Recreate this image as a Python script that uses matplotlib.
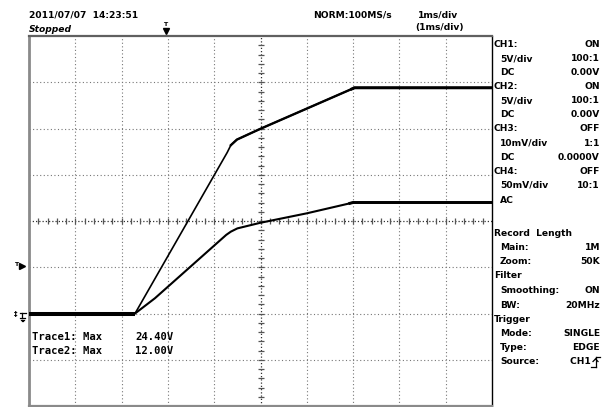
import matplotlib
matplotlib.use("Agg")
import matplotlib.pyplot as plt
import numpy as np

# ---- Acquisition data (time in ms from left edge, volts) ----
trace1_t = [0.0, 2.29, 4.28, 4.36, 4.49, 4.99, 6.97, 7.03, 10.0]
trace1_v = [0.0, 0.0, 17.4, 18.2, 18.8, 19.95, 24.27, 24.40, 24.40]

trace2_t = [0.0, 2.29, 2.72, 4.26, 4.36, 4.50, 4.99, 6.00, 6.93, 7.00, 10.0]
trace2_v = [0.0, 0.0, 1.65, 8.5, 8.85, 9.2, 9.8, 10.83, 11.91, 12.0, 12.0]

trace_max = ["24.40V", "12.00V"]

header_date = "2011/07/07  14:23:51"
header_state = "Stopped"
header_rate = "NORM:100MS/s"
header_tdiv = "1ms/div"
header_zdiv = "(1ms/div)"

panel_lines = [
    # (label, value, indented, y)
    ("CH1:", "ON", False, 44.5),
    ("5V/div", "100:1", True, 58.5),
    ("DC", "0.00V", True, 72.5),
    ("CH2:", "ON", False, 86.5),
    ("5V/div", "100:1", True, 100.5),
    ("DC", "0.00V", True, 114.5),
    ("CH3:", "OFF", False, 128.5),
    ("10mV/div", "1:1", True, 143),
    ("DC", "0.0000V", True, 157),
    ("CH4:", "OFF", False, 171),
    ("50mV/div", "10:1", True, 185),
    ("AC", "", True, 200),
    ("Record  Length", "", False, 233),
    ("Main:", "1M", True, 247.5),
    ("Zoom:", "50K", True, 262),
    ("Filter", "", False, 276),
    ("Smoothing:", "ON", True, 290.5),
    ("BW:", "20MHz", True, 305),
    ("Trigger", "", False, 319),
    ("Mode:", "SINGLE", True, 333.5),
    ("Type:", "EDGE", True, 348),
    ("Source:", "CH1   ", True, 362),
]

W, H = 610, 407
fig = plt.figure(figsize=(W / 100, H / 100), dpi=100)
fig.patch.set_facecolor("white")

def fx(x):
    return x / W

def fy(y):
    return 1 - y / H

x0, x1, y0, y1 = 29, 492, 36, 406
ax = fig.add_axes([fx(x0), fy(y1), (x1 - x0) / W, (y1 - y0) / H])
ax.set_xlim(0, 10)
ax.set_ylim(-10, 30)
ax.set_xticks([])
ax.set_yticks([])

for side in ["left", "bottom", "top"]:
    ax.spines[side].set_color("#8a8a8a")
ax.spines["left"].set_linewidth(2.0)
ax.spines["bottom"].set_linewidth(1.6)
ax.spines["top"].set_linewidth(1.6)
ax.spines["top"].set_color("#606060")
ax.spines["right"].set_color("black")
ax.spines["right"].set_linewidth(1.0)

# graticule
grid_kw = dict(color="#777777", lw=0.8, ls=(0, (1, 2.2)), zorder=1)
for gx in range(1, 10):
    if gx != 5:
        ax.axvline(gx, **grid_kw)
for gy in range(-5, 30, 5):
    if gy != 10:
        ax.axhline(gy, **grid_kw)
center_kw = dict(color="#333333", lw=0.9, ls=(0, (1, 1.6)), zorder=1)
ax.axvline(5, **center_kw)
ax.axhline(10, **center_kw)
minor_x = np.arange(0.2, 10, 0.2)
ax.plot(minor_x, np.full_like(minor_x, 10.0), ls="none", marker="|",
        ms=4.0, mew=0.9, color="#555555", zorder=1)
minor_y = np.arange(-9, 30, 1.0)
ax.plot(np.full_like(minor_y, 5.0), minor_y, ls="none", marker="_",
        ms=4.0, mew=0.9, color="#555555", zorder=1)

# waveforms
ax.plot(trace1_t, trace1_v, color="black", lw=1.2, zorder=3, solid_joinstyle="round")
ax.plot(trace2_t, trace2_v, color="black", lw=1.5, zorder=3, solid_joinstyle="round")
ax.plot(trace1_t[3:], trace1_v[3:], color="black", lw=1.7, zorder=3, solid_joinstyle="round")
ax.plot(trace1_t[-3:], trace1_v[-3:], color="black", lw=2.1, zorder=3)
ax.plot(trace2_t[-3:], trace2_v[-3:], color="black", lw=2.1, zorder=3)
ax.plot(trace1_t[:2], trace1_v[:2], color="black", lw=2.9, zorder=3, solid_capstyle="butt")

# readouts inside the graticule
mono = dict(family="DejaVu Sans Mono", fontsize=7.6, weight="bold", va="center",
            ha="left", color="black")
fig.text(fx(31.5), fy(337), "Trace1: Max", **mono)
fig.text(fx(135), fy(337), trace_max[0], **mono)
fig.text(fx(31.5), fy(351.5), "Trace2: Max", **mono)
fig.text(fx(135), fy(351.5), trace_max[1], **mono)

# header
sans = dict(family="DejaVu Sans", fontsize=6.6, weight="bold", va="center", color="black")
fig.text(fx(29), fy(15.5), header_date, ha="left", **sans)
fig.text(fx(29), fy(29), header_state, ha="left", style="italic", **sans)
fig.text(fx(313), fy(15.5), header_rate, ha="left", **sans)
fig.text(fx(418), fy(15.5), header_tdiv, ha="left", **sans)
fig.text(fx(415), fy(27.5), header_zdiv, ha="left", **sans)

# trigger position marker on top
fig.text(fx(165.5), fy(24.5), "T", ha="center", family="DejaVu Sans", fontsize=4.5,
         weight="bold", va="center")
fig.lines.append(plt.Line2D([fx(165.5)], [fy(31)], transform=fig.transFigure,
                            marker="v", ms=5, color="black", ls="none"))

# trigger level marker and ground marker on the left
fig.text(fx(16), fy(264.5), "T", ha="center", family="DejaVu Sans", fontsize=4.5,
         weight="bold", va="center")
fig.lines.append(plt.Line2D([fx(22)], [fy(265.5)], transform=fig.transFigure,
                            marker=">", ms=4.5, color="black", ls="none"))
fig.text(fx(16), fy(314), "‡", ha="center", family="DejaVu Sans", fontsize=5,
         weight="bold", va="center")
gnd = [([20, 26], [313, 313]), ([22, 22], [313, 318]), ([19.5, 24.5], [318, 318]),
       ([20.5, 23.5], [319.5, 319.5]), ([21.5, 22.5], [321, 321])]
for gxs, gys in gnd:
    fig.lines.append(plt.Line2D([fx(v) for v in gxs], [fy(v) for v in gys],
                                transform=fig.transFigure, color="black", lw=0.9))

# right-hand settings panel
for label, value, indented, y in panel_lines:
    fig.text(fx(500 if indented else 494), fy(y), label, ha="left", **sans)
    if value:
        fig.text(fx(600), fy(y), value, ha="right", **sans)

# rising-edge symbol next to the trigger source
edge = [([591, 595.5], [367, 367]), ([595.5, 595.5], [367, 357]), ([595.5, 600], [357, 357]),
        ([593, 595.5], [361.5, 359]), ([598, 595.5], [361.5, 359])]
for exs, eys in edge:
    fig.lines.append(plt.Line2D([fx(v) for v in exs], [fy(v) for v in eys],
                                transform=fig.transFigure, color="black", lw=0.9))

fig.savefig("out.png", dpi=100, facecolor="white")
